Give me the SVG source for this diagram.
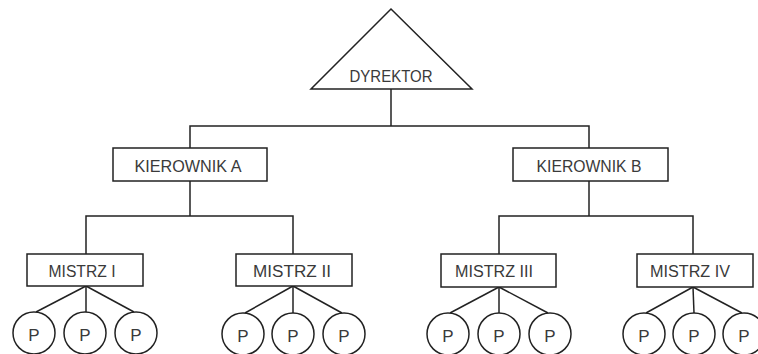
<svg xmlns="http://www.w3.org/2000/svg" width="758" height="354" viewBox="0 0 758 354">
<style>
.s{fill:#fff;stroke:#222;stroke-width:1.5}
.c line,.c polyline{stroke:#222;stroke-width:1.5;fill:none}
text{font-family:"Liberation Sans",Arial,sans-serif;fill:#3a3a3a;text-anchor:middle;font-size:16px}
.p{font-size:17px}
</style>
<rect width="758" height="354" fill="#fff"/>
<g class="c" id="connectors">
<line x1="391" y1="89" x2="391" y2="126"/>
<polyline points="190,148 190,126 589,126 589,148"/>
<line x1="190" y1="181" x2="190" y2="216"/>
<polyline points="86,254 86,216 293,216 293,254"/>
<line x1="589" y1="181" x2="589" y2="216"/>
<polyline points="499,254 499,216 693,216 693,254"/>
<line x1="86" y1="286" x2="36" y2="312"/>
<line x1="86" y1="286" x2="86" y2="312"/>
<line x1="86" y1="286" x2="134" y2="312"/>
<line x1="293" y1="286" x2="245" y2="313"/>
<line x1="293" y1="286" x2="293" y2="313"/>
<line x1="293" y1="286" x2="342" y2="313"/>
<line x1="499" y1="287" x2="450" y2="313"/>
<line x1="499" y1="287" x2="499" y2="313"/>
<line x1="499" y1="287" x2="548" y2="313"/>
<line x1="693" y1="287" x2="646" y2="313"/>
<line x1="693" y1="287" x2="694" y2="313"/>
<line x1="693" y1="287" x2="742" y2="313"/>
</g>
<g id="dyrektor"><polygon class="s" points="391,9 472,89 311,89"/><text x="391" y="82" textLength="83" lengthAdjust="spacingAndGlyphs" style="font-size:17px">DYREKTOR</text></g>
<g id="kierownikA"><rect class="s" x="113" y="148" width="154" height="33"/><text x="188" y="172" textLength="107" lengthAdjust="spacingAndGlyphs" style="font-size:17px">KIEROWNIK A</text></g>
<g id="kierownikB"><rect class="s" x="513" y="148" width="155" height="33"/><text x="589" y="172" textLength="105" lengthAdjust="spacingAndGlyphs" style="font-size:17px">KIEROWNIK B</text></g>
<g id="mistrz1"><rect class="s" x="27" y="254" width="116" height="32"/><text x="82" y="277" textLength="67" lengthAdjust="spacingAndGlyphs">MISTRZ I</text></g>
<g id="mistrz2"><rect class="s" x="236" y="254" width="116" height="32"/><text x="292" y="277" textLength="78" lengthAdjust="spacingAndGlyphs">MISTRZ II</text></g>
<g id="mistrz3"><rect class="s" x="441" y="254" width="115" height="33"/><text x="494" y="277" textLength="78" lengthAdjust="spacingAndGlyphs">MISTRZ III</text></g>
<g id="mistrz4"><rect class="s" x="637" y="254" width="116" height="33"/><text x="690" y="277" textLength="80" lengthAdjust="spacingAndGlyphs">MISTRZ IV</text></g>
<g id="p1"><circle class="s" cx="34" cy="333" r="21"/><text class="p" x="34" y="341">P</text></g>
<g id="p2"><circle class="s" cx="85" cy="333" r="21"/><text class="p" x="85" y="341">P</text></g>
<g id="p3"><circle class="s" cx="136" cy="333" r="21"/><text class="p" x="136" y="341">P</text></g>
<g id="p4"><circle class="s" cx="243" cy="334" r="21"/><text class="p" x="243" y="342">P</text></g>
<g id="p5"><circle class="s" cx="293" cy="334" r="21"/><text class="p" x="293" y="342">P</text></g>
<g id="p6"><circle class="s" cx="344" cy="334" r="21"/><text class="p" x="344" y="342">P</text></g>
<g id="p7"><circle class="s" cx="448" cy="334" r="21"/><text class="p" x="448" y="342">P</text></g>
<g id="p8"><circle class="s" cx="499" cy="334" r="21"/><text class="p" x="499" y="342">P</text></g>
<g id="p9"><circle class="s" cx="550" cy="334" r="21"/><text class="p" x="550" y="342">P</text></g>
<g id="p10"><circle class="s" cx="644" cy="334" r="21"/><text class="p" x="644" y="342">P</text></g>
<g id="p11"><circle class="s" cx="694" cy="334" r="21"/><text class="p" x="694" y="342">P</text></g>
<g id="p12"><circle class="s" cx="744" cy="334" r="21"/><text class="p" x="744" y="342">P</text></g>
</svg>
